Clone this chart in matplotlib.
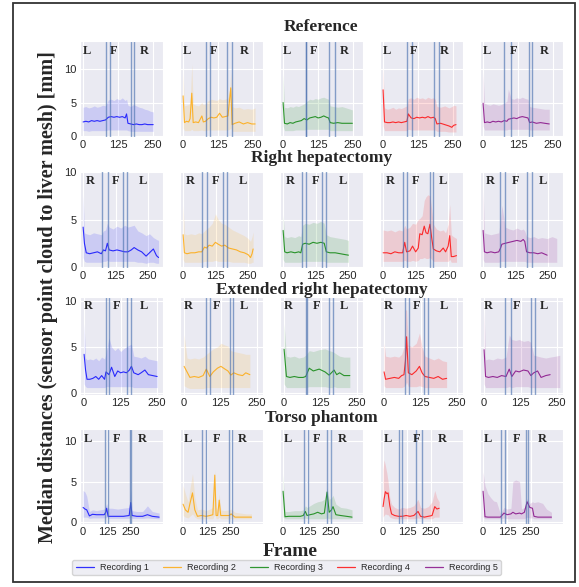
import numpy as np
import matplotlib
matplotlib.use("Agg")
import matplotlib.pyplot as plt
import seaborn as sns
from matplotlib.patches import Rectangle
from matplotlib.lines import Line2D

sns.set_style("darkgrid")
plt.rcParams['font.family'] = ['Liberation Sans', 'DejaVu Sans']

nan = float('nan')

scenarios = ["Reference", "Right hepatectomy", "Extended right hepatectomy", "Torso phantom"]
recordings = ["Recording 1", "Recording 2", "Recording 3", "Recording 4", "Recording 5"]
colors = ["blue", "orange", "green", "red", "purple"]
region_labels = [["L", "F", "R"], ["R", "F", "L"], ["R", "F", "L"], ["L", "F", "R"]]
x_ticks = [0, 125, 250]
y_ticks = [0, 5, 10]

# each row: (frame, lower, median, upper)
ref_rec1 = [(0,0.8,2.1,4.3),(10,0.8,2.2,4.4),(20,0.7,2.1,4.2),(30,0.8,2.3,4.3),(40,0.8,2.2,4.5),(50,0.8,2.3,4.3),(60,0.8,2.2,4.4),(70,0.8,2.3,4.6),(80,0.8,2.4,4.5),(90,0.9,2.8,5.4),(100,0.9,2.9,5.5),(110,0.9,2.8,5.3),(120,0.9,2.9,5.6),(130,0.9,2.8,5.4),(140,0.9,2.9,5.7),(150,0.9,2.7,5.3),(155,0.9,3.3,5.5),(160,0.8,1.9,4.6),(170,0.7,1.8,4.4),(180,0.7,1.7,4.7),(190,0.7,1.8,4.5),(200,0.7,1.7,4.3),(210,0.7,1.7,4.2),(220,0.7,1.8,4.0),(230,0.7,1.7,3.9),(240,0.7,1.7,3.7),(250,0.7,1.7,3.6)]
ref_rec2 = [(0,1.2,6.0,9.5),(5,0.8,2.0,4.5),(12,0.8,2.2,4.6),(20,0.8,2.1,4.7),(25,0.8,2.6,5.0),(31,1.0,6.4,10.8),(36,0.8,2.0,4.8),(45,0.8,2.1,4.6),(55,0.8,2.0,4.5),(67,0.9,3.0,5.0),(72,0.8,2.1,4.7),(80,0.8,2.2,4.8),(90,0.9,2.6,5.3),(100,0.9,2.8,5.5),(110,0.9,2.7,5.4),(120,0.9,2.8,5.3),(130,0.9,3.4,5.6),(140,0.9,2.8,5.4),(150,0.9,2.9,5.5),(160,0.9,3.0,5.7),(166,1.0,5.5,7.0),(170,1.2,7.2,9.5),(175,0.7,1.7,4.4),(185,0.7,1.9,4.2),(200,0.7,2.1,4.3),(215,0.7,1.8,4.0),(230,0.7,2.0,4.1),(245,0.7,1.8,4.0),(257,0.7,1.8,4.2)]
ref_rec3 = [(0,1.5,5.0,9.4),(5,0.8,1.9,4.3),(15,0.8,1.8,4.2),(25,0.8,2.0,4.4),(35,0.8,1.9,4.3),(45,0.9,2.1,4.5),(55,0.9,2.2,4.4),(65,0.9,2.3,4.6),(75,0.9,2.6,4.8),(85,1.0,2.4,5.2),(95,1.0,2.7,5.5),(105,1.0,2.8,5.4),(115,1.0,2.9,5.6),(125,1.0,2.7,5.5),(135,1.0,2.8,5.7),(145,1.0,3.0,5.8),(155,1.0,2.8,5.6),(162,1.0,2.7,5.5),(168,0.8,2.0,4.5),(180,0.8,1.9,4.4),(195,0.8,2.0,4.3),(210,0.8,1.9,4.4),(225,0.8,1.9,4.2),(240,0.8,1.9,4.0),(247,0.8,1.9,3.9)]
ref_rec4 = [(0,1.5,6.9,10.3),(5,0.8,2.1,4.2),(15,0.8,2.0,4.0),(25,0.8,2.0,4.1),(35,0.8,2.1,4.3),(45,0.8,2.0,4.0),(55,0.8,2.1,4.2),(65,0.8,2.0,4.1),(75,0.8,2.1,4.3),(85,0.8,2.2,4.5),(90,1.0,3.3,5.6),(100,0.9,2.7,5.7),(110,0.9,2.6,5.5),(120,0.9,2.8,5.8),(130,0.9,2.7,5.6),(140,0.9,2.8,5.7),(150,0.9,2.7,5.5),(160,0.9,2.9,5.8),(170,0.9,2.7,5.6),(180,0.9,2.8,5.7),(186,0.9,2.6,5.5),(192,0.7,1.8,4.4),(205,0.7,1.9,4.3),(220,0.7,1.7,4.5),(235,0.6,1.5,4.2),(245,0.6,1.3,4.4),(252,0.6,1.6,4.6),(260,0.6,1.7,4.5)]
ref_rec5 = [(0,1.5,4.9,9.6),(5,0.9,2.0,4.9),(15,0.9,2.1,4.7),(25,0.9,2.0,4.6),(35,0.9,2.2,4.8),(45,0.9,2.1,4.7),(55,0.9,2.2,4.6),(65,0.9,2.1,4.7),(75,0.9,2.3,4.9),(85,0.9,2.2,5.2),(90,1.0,2.5,7.0),(100,1.0,2.6,5.6),(110,1.0,2.7,5.5),(120,1.0,2.6,5.7),(130,1.0,2.8,5.6),(140,1.0,2.9,5.8),(150,1.0,2.8,5.6),(160,1.0,2.7,5.5),(166,0.9,2.0,4.4),(175,0.9,2.1,4.3),(190,0.9,1.9,4.2),(205,0.9,2.0,4.1),(220,0.9,1.9,4.0),(236,0.9,1.8,4.0)]

rh_rec1 = [(0,1.0,4.2,7.7),(5,0.6,2.5,3.6),(12,0.5,1.5,3.5),(25,0.5,1.4,3.4),(40,0.5,1.5,3.6),(55,0.5,1.6,3.5),(70,0.5,1.4,3.4),(78,0.6,1.8,3.8),(86,0.6,1.7,3.9),(93,0.7,2.5,4.6),(100,0.6,1.8,4.2),(115,0.6,1.7,4.0),(130,0.6,1.8,4.3),(145,0.6,1.7,4.1),(160,0.6,1.6,4.4),(172,0.6,1.6,4.2),(185,0.6,1.8,4.3),(196,0.6,2.05,4.4),(210,0.5,1.8,3.8),(225,0.5,1.6,3.6),(242,0.4,1.15,3.3),(255,0.5,1.5,3.5),(270,0.5,1.9,3.1),(282,0.4,1.2,2.9),(290,0.4,1.0,2.8)]
rh_rec2 = [(0,0.8,3.4,6.5),(5,0.5,1.5,3.5),(15,0.5,1.4,3.4),(30,0.5,1.5,3.5),(45,0.5,1.5,3.4),(60,0.5,1.6,3.6),(72,0.5,1.6,3.5),(82,0.6,2.1,3.8),(90,0.6,2.0,4.0),(100,0.6,2.3,4.2),(112,0.6,2.2,4.6),(124,0.7,2.6,5.6),(135,0.6,2.4,5.0),(148,0.6,2.2,4.6),(160,0.6,2.3,4.5),(175,0.6,2.0,4.2),(190,0.5,1.9,3.9),(205,0.5,1.8,3.7),(220,0.5,1.6,3.5),(235,0.5,1.5,3.3),(250,0.4,1.3,3.0),(259,0.4,1.0,2.7),(265,0.5,1.4,3.2),(269,0.5,1.9,3.7)]
rh_rec3 = [(0,0.8,3.85,5.5),(6,0.5,1.6,3.2),(15,0.5,1.5,3.1),(30,0.5,1.6,3.2),(45,0.5,1.5,3.1),(60,0.5,1.6,3.3),(68,0.5,1.5,3.2),(75,0.6,2.4,4.4),(85,0.6,2.5,4.6),(100,0.6,2.4,4.5),(115,0.6,2.6,4.7),(130,0.6,2.5,4.6),(145,0.6,2.6,4.8),(158,0.6,2.5,4.6),(166,0.5,1.6,3.4),(180,0.5,1.5,3.2),(200,0.5,1.5,3.1),(220,0.5,1.4,3.0),(240,0.5,1.3,2.9),(251,0.5,1.25,2.8)]
rh_rec4 = [(0,0.6,1.5,3.9),(15,0.6,1.5,3.8),(30,0.6,1.4,3.9),(45,0.6,1.6,3.7),(60,0.6,1.5,3.9),(75,0.6,1.5,3.8),(83,0.7,2.6,4.4),(90,0.6,1.6,4.0),(103,0.6,1.7,4.2),(113,0.7,2.2,4.6),(125,0.6,1.6,4.5),(135,0.7,2.0,5.0),(141,0.9,3.5,5.1),(150,0.9,3.4,5.4),(158,1.0,4.3,7.0),(165,0.9,3.6,7.4),(172,0.9,3.5,7.6),(180,1.0,4.5,7.5),(187,0.8,3.0,6.0),(193,0.6,1.9,4.5),(205,0.6,1.7,4.0),(218,0.6,1.6,3.8),(231,0.6,2.0,3.9),(240,0.6,1.6,3.6),(250,0.6,2.2,4.5),(256,0.8,3.3,6.6),(262,0.5,1.1,3.4),(270,0.5,1.1,3.2),(282,0.5,1.2,3.0)]
rh_rec5 = [(0,0.8,3.85,8.4),(5,0.5,1.6,3.6),(15,0.5,1.5,3.5),(30,0.5,1.6,3.4),(45,0.5,1.5,3.5),(60,0.5,1.6,3.6),(67,0.6,2.0,5.0),(72,0.6,2.4,6.5),(85,0.6,2.5,4.2),(100,0.6,2.6,4.0),(115,0.6,2.7,3.9),(130,0.6,2.8,4.1),(145,0.6,2.7,3.9),(154,0.6,2.9,4.0),(160,0.6,2.7,3.8),(167,0.5,1.6,3.2),(180,0.5,1.5,3.1),(195,0.5,1.5,3.2),(210,0.5,1.4,3.0),(225,0.5,1.5,3.1),(246,0.5,1.25,3.0),(265,0.5,nan,3.2),(283,0.5,nan,3.0)]

erh_rec1 = [(0,1.0,4.2,7.6),(5,0.7,2.5,3.8),(10,0.6,1.5,3.6),(20,0.6,1.5,3.7),(30,0.6,1.6,3.6),(40,0.6,1.8,3.8),(50,0.6,1.5,3.5),(60,0.6,1.9,3.9),(70,0.6,1.5,3.7),(75,0.7,2.3,4.3),(85,0.7,2.0,6.0),(94,0.7,2.8,5.0),(105,0.7,1.8,4.6),(115,0.7,2.4,4.9),(125,0.7,2.2,4.5),(135,0.7,2.3,4.8),(145,0.7,2.2,5.0),(155,0.7,2.5,5.2),(162,0.7,2.9,5.3),(170,0.6,2.2,4.0),(185,0.6,2.0,3.9),(195,0.6,2.2,3.8),(208,0.6,2.5,4.0),(220,0.6,2.0,3.7),(235,0.6,1.9,3.6),(250,0.6,1.8,3.5)]
erh_rec2 = [(0,0.8,2.9,6.3),(10,0.6,2.3,3.8),(20,0.5,1.7,3.7),(35,0.5,1.8,3.8),(50,0.5,1.7,3.7),(65,0.5,1.9,3.9),(76,0.6,2.6,4.2),(88,0.6,1.8,4.5),(100,0.6,2.3,4.8),(114,0.6,2.7,5.0),(126,0.6,2.9,5.4),(140,0.6,2.6,5.2),(150,0.6,2.4,5.1),(160,0.6,1.95,4.6),(170,0.6,2.2,4.5),(185,0.6,2.0,4.4),(200,0.6,1.9,4.3),(211,0.6,2.2,4.2),(225,0.6,2.0,4.2)]
erh_rec3 = [(0,1.0,4.75,7.5),(8,0.6,1.8,4.0),(20,0.6,1.7,3.9),(35,0.6,1.8,4.0),(50,0.6,1.7,3.8),(65,0.6,1.7,3.9),(74,0.6,1.8,4.1),(86,0.7,2.7,4.6),(100,0.7,2.4,4.5),(120,0.7,2.6,4.7),(140,0.7,2.3,4.8),(154,0.6,1.95,4.6),(165,0.6,2.3,4.5),(171,0.7,2.5,4.4),(180,0.6,2.0,4.2),(190,0.6,2.2,4.0),(205,0.6,1.9,3.9),(225,0.6,1.9,3.9)]
erh_rec4 = [(0,0.8,2.3,5.4),(5,0.6,1.5,4.0),(20,0.6,1.6,3.9),(35,0.6,1.7,4.0),(50,0.6,1.6,3.9),(60,0.6,1.9,4.2),(68,0.7,2.0,5.0),(73,0.9,3.5,9.0),(77,1.2,6.1,9.0),(83,0.7,2.2,5.2),(95,0.7,2.0,5.0),(110,0.7,2.4,5.4),(121,0.8,2.9,6.5),(130,0.7,2.2,5.0),(140,0.6,1.8,4.0),(155,0.6,1.7,3.8),(170,0.6,1.6,3.6),(185,0.6,1.8,3.8),(200,0.6,1.5,3.5),(214,0.6,1.6,3.4)]
erh_rec5 = [(0,1.0,4.7,9.0),(5,0.6,1.8,3.6),(15,0.6,1.7,3.7),(30,0.6,1.8,3.6),(45,0.6,1.7,3.8),(60,0.6,1.9,3.7),(75,0.6,1.8,3.9),(86,0.7,2.6,6.3),(95,0.6,1.8,5.8),(108,0.7,2.4,5.7),(120,0.7,2.3,5.8),(135,0.7,2.5,5.6),(150,0.7,2.4,5.7),(160,0.6,1.9,5.5),(170,0.6,2.2,4.1),(183,0.6,2.4,4.0),(195,0.6,1.7,3.9),(211,0.6,1.9,3.8),(226,0.6,2.0,3.9),(245,0.6,nan,4.0),(259,0.6,nan,4.1)]

torso_rec1 = [(0,0.6,1.8,3.9),(10,0.6,1.6,3.7),(19,0.6,1.5,3.2),(33,0.45,0.75,1.3),(49,0.5,0.95,1.5),(70,0.5,0.9,1.4),(90,0.5,0.9,1.5),(110,0.5,0.9,1.6),(118,0.5,1.2,2.0),(123,0.6,1.7,2.3),(130,0.45,0.7,1.7),(150,0.45,0.7,1.7),(180,0.45,0.7,1.6),(210,0.45,0.7,1.7),(240,0.45,0.8,1.8),(248,0.6,2.4,4.0),(255,0.45,0.8,1.4),(280,0.45,0.7,1.3),(310,0.45,0.7,1.3),(335,0.5,0.9,2.0),(360,0.45,0.7,1.3),(396,0.4,0.6,1.1)]
torso_rec2 = [(0,0.8,2.2,4.5),(12,0.6,1.5,3.5),(26,0.5,1.2,2.5),(35,0.7,2.2,4.0),(49,1.0,3.6,6.0),(61,0.6,1.5,3.0),(75,0.4,0.7,1.5),(95,0.4,0.8,1.6),(120,0.4,0.7,1.4),(140,0.4,0.8,1.6),(155,0.4,0.9,1.8),(165,1.0,5.8,6.5),(172,0.4,0.8,1.8),(180,0.4,0.8,1.5),(188,0.6,2.7,3.5),(196,0.4,0.8,1.5),(215,0.4,0.8,1.4),(240,0.4,0.8,1.5),(250,0.4,1.0,1.6),(270,0.4,0.6,1.2),(300,0.4,0.6,1.1),(330,0.4,0.6,1.0),(356,0.4,0.6,1.0)]
torso_rec3 = [(0,0.6,3.8,6.0),(10,0.4,0.65,1.3),(30,0.4,0.7,1.3),(60,0.4,0.7,1.4),(90,0.4,0.7,1.4),(105,0.4,0.8,1.5),(116,0.5,1.3,2.0),(125,0.4,0.8,1.8),(140,0.4,0.9,2.0),(160,0.4,1.0,2.3),(180,0.4,1.2,2.5),(200,0.4,1.0,2.6),(215,0.4,1.1,2.8),(229,0.5,3.7,4.2),(240,0.4,1.2,2.8),(252,0.4,1.5,3.0),(260,0.4,1.9,3.3),(275,0.4,0.9,2.2),(300,0.4,0.8,1.8),(330,0.4,0.7,1.7),(359,0.4,0.6,1.5)]
torso_rec4 = [(0,0.6,1.9,6.5),(5,0.8,2.8,7.7),(12,1.0,3.75,7.0),(20,0.9,3.5,6.0),(26,0.9,3.6,5.0),(35,0.6,2.0,3.0),(44,0.5,1.0,2.2),(60,0.4,0.8,1.8),(80,0.4,0.7,1.6),(100,0.4,0.7,1.8),(120,0.4,0.8,1.7),(140,0.4,0.7,1.8),(160,0.4,0.8,2.0),(182,0.5,1.3,2.8),(195,0.4,0.7,1.8),(215,0.4,0.6,1.7),(235,0.4,0.7,1.9),(255,0.4,0.8,2.5),(269,0.6,1.9,3.9),(280,0.6,1.6,3.0),(292,0.6,1.7,2.5)]
torso_rec5 = [(0,0.6,3.8,6.2),(10,0.4,0.65,4.5),(25,0.4,0.6,3.5),(40,0.4,0.6,3.0),(55,0.4,0.6,2.6),(70,0.4,0.6,2.5),(90,0.4,0.6,1.0),(109,0.5,1.1,1.8),(125,0.4,0.9,1.6),(145,0.4,1.0,1.7),(155,0.4,1.2,5.0),(170,0.4,1.0,5.2),(190,0.4,1.1,5.0),(200,0.4,1.0,1.6),(215,0.4,1.2,1.8),(229,0.6,2.5,2.9),(243,0.5,1.8,2.3),(257,0.5,1.7,2.5),(265,0.4,0.7,2.4),(285,0.4,0.6,2.5),(310,0.4,0.6,2.3),(330,0.4,0.6,1.6),(356,0.4,0.6,1.2)]

# region boundaries (frames) per recording
ref_bounds = [[82, 96, 170, 182], [81, 96, 155, 173], [81, 83, 162, 186], [87, 102, 183, 198], [76, 99, 165, 174]]
rh_bounds = [[74, 95, 153, 168], [74, 92, 154, 169], [72, 87, 148, 163], [75, 90, 180, 193], [64, 86, 167, 186]]
erh_bounds = [[74, 86, 148, 159], [74, 88, 156, 168], [76, 78, 152, 166], [70, 86, 137, 150], [71, 91, 160, 173]]
torso_bounds = [[115, 132, 245, 248], [96, 117, 240, 256], [107, 128, 229, 247], [83, 101, 170, 205], [95, 113, 225, 234]]

all_data = [
    [ref_rec1, ref_rec2, ref_rec3, ref_rec4, ref_rec5],
    [rh_rec1, rh_rec2, rh_rec3, rh_rec4, rh_rec5],
    [erh_rec1, erh_rec2, erh_rec3, erh_rec4, erh_rec5],
    [torso_rec1, torso_rec2, torso_rec3, torso_rec4, torso_rec5],
]
all_bounds = [ref_bounds, rh_bounds, erh_bounds, torso_bounds]

# layout (pixels)
W, H = 579, 587
col_left = [80, 180, 280, 380, 480]
col_w = 83
row_tb = [(41, 137), (171, 268), (297, 395), (429, 524)]
row_xlim = [(-11, 285), (-12, 307), (-14, 270), (-16, 416)]
row_ylim = [(-0.15, 14.2), (-0.1, 10.1), (-0.2, 10.4), (-0.25, 11.5)]
label_xfrac = [[0.08, 0.41, 0.77], [0.13, 0.43, 0.76], [0.10, 0.44, 0.77], [0.10, 0.44, 0.75]]
title_y = [27, 158, 290, 418]

fig = plt.figure(figsize=(W / 100, H / 100), dpi=100)
serif = ['Liberation Serif', 'DejaVu Serif']

for r in range(4):
    top, bot = row_tb[r]
    for c in range(5):
        ax = fig.add_axes([col_left[c] / W, 1 - bot / H, col_w / W, (bot - top) / H])
        data = np.array(all_data[r][c], dtype=float)
        fr, lo, med, hi = data[:, 0], data[:, 1], data[:, 2], data[:, 3]
        ax.fill_between(fr, lo, hi, color=colors[c], alpha=0.13, linewidth=0)
        ax.plot(fr, med, color=colors[c], lw=0.8, alpha=0.8)
        for b in all_bounds[r][c]:
            ax.axvline(b, color='#4C72B0', alpha=0.65, lw=1.0)
        for lab, xf in zip(region_labels[r], label_xfrac[r]):
            ax.text(xf, 1 - 9.5 / (bot - top), lab, transform=ax.transAxes, ha='center', va='center',
                    fontsize=9, fontweight='bold', family=serif)
        ax.set_xlim(*row_xlim[r])
        ax.set_ylim(*row_ylim[r])
        ax.set_xticks(x_ticks)
        ax.set_yticks(y_ticks)
        ax.tick_params(labelsize=8, pad=2.5, length=0)
        if c > 0:
            ax.set_yticklabels([])
    fig.text(321.5 / W, 1 - title_y[r] / H, scenarios[r], ha='center', va='center',
             fontsize=12.5, fontweight='bold', family=serif)

fig.text(48 / W, 1 - 297 / H, "Median distances (sensor point cloud to liver mesh) [mm]",
         rotation=90, ha='center', va='center', fontsize=14.5, fontweight='bold', family=serif)
fig.text(290 / W, 1 - 551 / H, "Frame", ha='center', va='center', fontsize=14,
         fontweight='bold', family=serif)

handles = [Line2D([0], [0], color=col, lw=0.9, alpha=0.8) for col in colors]
leg = fig.legend(handles, recordings, loc='center', bbox_to_anchor=(286.5 / W, 1 - 567.5 / H),
                 ncol=5, fontsize=6.5, frameon=True, handlelength=2.0, columnspacing=1.6,
                 borderpad=0.35, handletextpad=0.65, borderaxespad=0)
leg.get_frame().set_facecolor('#EAEAF2')
leg.get_frame().set_edgecolor('#CCCCCC')

fig.add_artist(Rectangle((12.5 / W, 1 - 582 / H), (575 - 12.5) / W, (582 - 3) / H,
                         transform=fig.transFigure, fill=False, edgecolor='#333333', lw=1.3))

fig.savefig("out.png", dpi=100)
